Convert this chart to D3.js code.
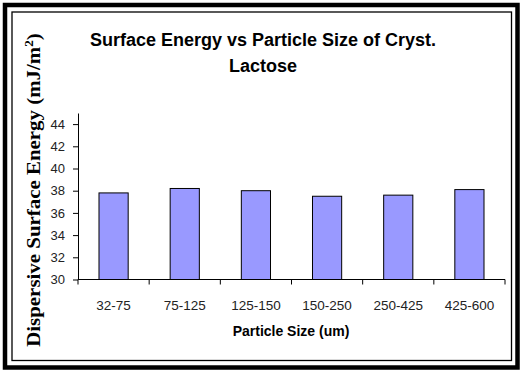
<html>
  <head>
    <style>
      body { margin: 0; background: #fff; }
      svg { display: block; }
    </style>
    <script src="https://cdn.jsdelivr.net/npm/d3@7"></script>
  </head>
  <body>
    <div id="chart"></div>
    <script>
      // data
      const sizes = ["32-75", "75-125", "125-150", "150-250", "250-425", "425-600"];
      const energy = [37.8, 38.2, 38.0, 37.5, 37.6, 38.1];
      const yTicks = [30, 32, 34, 36, 38, 40, 42, 44];
      const titleLines = ["Surface Energy vs Particle Size of Cryst.", "Lactose"];

      const width = 525, height = 374;
      const plotL = 78, plotR = 505, plotT = 113, plotB = 279.5;

      const svg = d3.select("#chart").append("svg")
        .attr("width", width).attr("height", height);

      svg.append("rect").attr("width", width).attr("height", height).attr("fill", "#fff");

      // frames
      svg.append("rect").attr("x", 5).attr("y", 5).attr("width", 512.5).attr("height", 362.5)
        .attr("fill", "none").attr("stroke", "#000").attr("stroke-width", 4.5);
      svg.append("rect").attr("x", 12).attr("y", 12).attr("width", 499.5).attr("height", 348.5)
        .attr("fill", "none").attr("stroke", "#000").attr("stroke-width", 1.3);

      const x = d3.scaleBand().domain(sizes).range([plotL, plotR])
        .paddingInner(0.59).paddingOuter(0.295);
      const y = d3.scaleLinear().domain([30, 45]).range([plotB, plotT]);

      // bars
      svg.append("g").selectAll("rect").data(energy).join("rect")
        .attr("x", (d, i) => x(sizes[i]))
        .attr("y", d => y(d))
        .attr("width", x.bandwidth())
        .attr("height", d => y(30) - y(d))
        .attr("fill", "#9999ff")
        .attr("stroke", "#000")
        .attr("stroke-width", 1);

      // y axis
      const yAxis = svg.append("g").attr("transform", `translate(${plotL},0)`)
        .call(d3.axisLeft(y).tickValues(yTicks).tickSize(5).tickSizeOuter(0).tickPadding(8));
      yAxis.selectAll("text").attr("font-family", "Arial, 'Liberation Sans', sans-serif")
        .attr("font-size", 13).attr("fill", "#222");

      // x axis: line with ticks at category boundaries
      const xg = svg.append("g").attr("transform", `translate(0,${plotB})`);
      xg.append("line").attr("x1", plotL).attr("x2", plotR).attr("stroke", "#000");
      xg.selectAll(".bt").data(d3.range(sizes.length + 1)).join("line")
        .attr("x1", i => x.range()[0] + i * x.step())
        .attr("x2", i => x.range()[0] + i * x.step())
        .attr("y1", 0).attr("y2", 5).attr("stroke", "#000");
      xg.selectAll(".lbl").data(sizes).join("text")
        .attr("x", d => x(d) + x.bandwidth() / 2)
        .attr("y", 30.5)
        .attr("text-anchor", "middle")
        .attr("font-family", "Arial, 'Liberation Sans', sans-serif")
        .attr("font-size", 13.5).attr("fill", "#222")
        .text(d => d);

      // x title
      svg.append("text").attr("x", 291).attr("y", 336).attr("text-anchor", "middle")
        .attr("font-family", "Arial, 'Liberation Sans', sans-serif")
        .attr("font-size", 14).attr("font-weight", "bold")
        .text("Particle Size (um)");

      // chart title
      svg.append("g").selectAll("text").data(titleLines).join("text")
        .attr("x", 263).attr("y", (d, i) => 46 + i * 26)
        .attr("text-anchor", "middle")
        .attr("font-family", "Arial, 'Liberation Sans', sans-serif")
        .attr("font-size", 18).attr("font-weight", "bold")
        .text(d => d);

      // y title (serif, rotated, slightly stretched along its length)
      const yt = svg.append("text")
        .attr("transform", "translate(40,190) rotate(-90) scale(1.1,1)")
        .attr("text-anchor", "middle")
        .attr("font-family", "'Times New Roman', 'Liberation Serif', serif")
        .attr("font-size", 19).attr("font-weight", "bold");
      yt.append("tspan").text("Dispersive Surface Energy (mJ/m");
      yt.append("tspan").attr("font-size", 12).attr("dy", -7).text("2");
      yt.append("tspan").attr("dy", 7).text(")");
    </script>
  </body>
</html>
